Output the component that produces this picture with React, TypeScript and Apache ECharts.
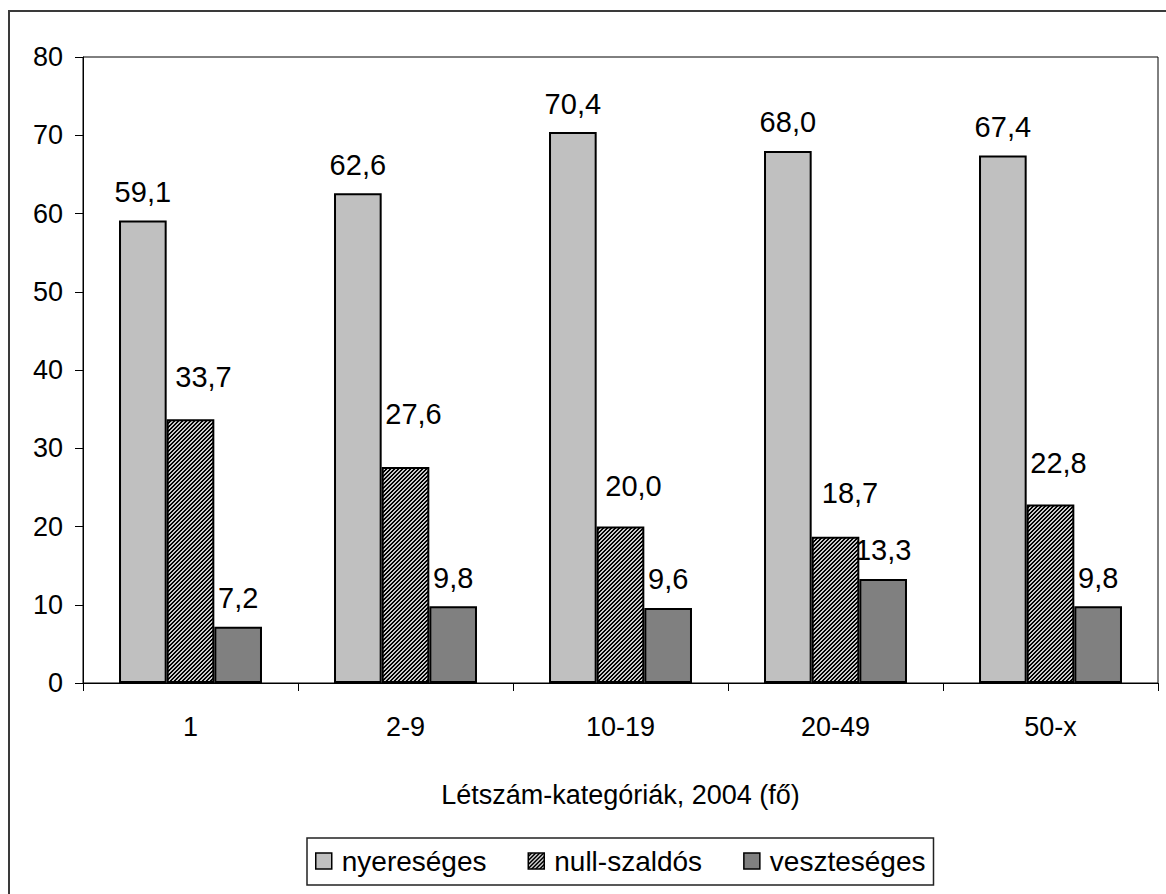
import { useEffect, useRef } from "react";
import * as echarts from "echarts";

const categories = ["1", "2-9", "10-19", "20-49", "50-x"];
const seriesNames = ["nyereséges", "null-szaldós", "veszteséges"];
const nyereseges = [59.1, 62.6, 70.4, 68.0, 67.4];
const nullSzaldos = [33.7, 27.6, 20.0, 18.7, 22.8];
const veszteseges = [7.2, 9.8, 9.6, 13.3, 9.8];
const yMin = 0;
const yMax = 80;
const yStep = 10;
const xAxisTitle = "Létszám-kategóriák, 2004 (fő)";

// label nudges (style only) for the hatched series, as placed in the original
const hatchLabelNudge = [
  [13, -13.5],
  [8, -24.5],
  [13, -12.5],
  [14.5, -15.5],
  [8, -13.5],
];

const FONT = 'Arial, "Liberation Sans", sans-serif';
const fmt = (v: number) => v.toFixed(1).replace(".", ",");

function makeHatch(): HTMLCanvasElement {
  const c = document.createElement("canvas");
  const n = 4;
  c.width = n;
  c.height = n;
  const ctx = c.getContext("2d")!;
  ctx.fillStyle = "#000000";
  ctx.fillRect(0, 0, n, n);
  ctx.fillStyle = "#c8c8c8";
  for (let x = 0; x < n; x++) {
    for (let y = 0; y < n; y++) {
      if ((x + y) % n < 2) ctx.fillRect(x, y, 1, 1);
    }
  }
  return c;
}

export default function App() {
  const ref = useRef<HTMLDivElement>(null);
  useEffect(() => {
    document.body.style.margin = "0";
    document.body.style.overflow = "hidden";
    if (!ref.current) return;
    const chart = echarts.init(ref.current, undefined, { renderer: "svg" });
    const hatch = makeHatch();
    const hatchFill: any = { image: hatch, repeat: "repeat", imageWidth: 4, imageHeight: 4 };

    const labelBase = {
      show: true,
      position: "top" as const,
      distance: 14,
      fontFamily: FONT,
      fontSize: 29,
      lineHeight: 29,
      color: "#000",
      formatter: (p: any) => fmt(p.value),
    };

    chart.setOption({
      animation: false,
      backgroundColor: "#ffffff",
      textStyle: { fontFamily: FONT },
      graphic: [
        {
          type: "rect",
          shape: { x: 9, y: 11, width: 1200, height: 950 },
          style: { fill: "none", stroke: "#3a3a3a", lineWidth: 2 },
          silent: true,
        },
      ],
      grid: {
        left: 83,
        top: 57,
        right: 8,
        bottom: 211,
        show: true,
        borderColor: "#000",
        borderWidth: 1,
        backgroundColor: "transparent",
      },
      legend: {
        left: 307,
        top: 838,
        orient: "horizontal",
        borderColor: "#222",
        borderWidth: 1.5,
        padding: [9, 8, 10, 8],
        itemGap: 41,
        itemWidth: 16,
        itemHeight: 16,
        icon: "rect",
        itemStyle: { borderColor: "#000", borderWidth: 1.5 },
        textStyle: {
          fontFamily: FONT,
          fontSize: 28,
          lineHeight: 28,
          color: "#000",
          padding: [0, 0, 0, 5],
        },
        data: seriesNames,
      },
      xAxis: {
        type: "category",
        data: categories,
        name: xAxisTitle,
        nameLocation: "middle",
        nameGap: 98,
        nameTextStyle: { fontFamily: FONT, fontSize: 27, color: "#000" },
        axisLine: { show: true, lineStyle: { color: "#000", width: 1 } },
        axisTick: { show: true, length: 8, alignWithLabel: false, lineStyle: { color: "#000" } },
        axisLabel: { fontFamily: FONT, fontSize: 27, color: "#000", margin: 30 },
        splitLine: { show: false },
      },
      yAxis: {
        type: "value",
        min: yMin,
        max: yMax,
        interval: yStep,
        axisLine: { show: true, lineStyle: { color: "#000", width: 1 } },
        axisTick: { show: true, length: 8, inside: false, lineStyle: { color: "#000" } },
        axisLabel: { fontFamily: FONT, fontSize: 27, color: "#000", margin: 20 },
        splitLine: { show: false },
      },
      series: [
        {
          name: seriesNames[0],
          type: "bar",
          data: nyereseges,
          barGap: "0%",
          barCategoryGap: "33.5%",
          itemStyle: { color: "#c0c0c0", borderColor: "#000", borderWidth: 2 },
          label: labelBase,
        },
        {
          name: seriesNames[1],
          type: "bar",
          data: nullSzaldos.map((v, i) => ({
            value: v,
            label: { offset: hatchLabelNudge[i] },
          })),
          barGap: "0%",
          barCategoryGap: "33.5%",
          itemStyle: { color: hatchFill, borderColor: "#000", borderWidth: 2 },
          label: labelBase,
        },
        {
          name: seriesNames[2],
          type: "bar",
          data: veszteseges,
          barGap: "0%",
          barCategoryGap: "33.5%",
          itemStyle: { color: "#808080", borderColor: "#000", borderWidth: 2 },
          label: labelBase,
        },
      ],
    });
    return () => chart.dispose();
  }, []);
  return <div ref={ref} style={{ width: 1166, height: 894 }} />;
}
